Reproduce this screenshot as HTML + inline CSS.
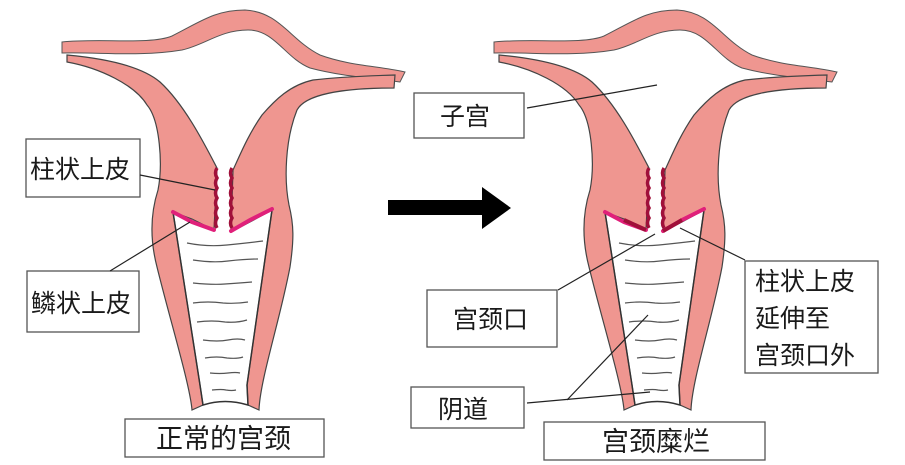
<!DOCTYPE html>
<html><head><meta charset="utf-8"><style>
html,body{margin:0;padding:0;background:#fff;}
svg{display:block;}
text{font-family:"Liberation Sans","Noto Sans CJK SC",sans-serif;font-size:25px;fill:#1a1a1a;}
</style></head><body>
<svg width="905" height="465" viewBox="0 0 905 465" xmlns="http://www.w3.org/2000/svg">
<defs>
<g id="fig">
  <path d="M62,42 C100,38 150,45 172,36 C200,22 215,10 245,10 C280,12 290,40 320,55 C350,66 380,66 405,72 L400,82 C370,78 340,76 310,68 C285,58 275,30 248,30 C220,30 205,45 182,50 C140,57 100,52 62,53 Z" fill="#ef9690" stroke="#555" stroke-width="1"/>
  <path d="M67,55 C100,58 140,65 160,82 C185,105 205,145 217,168 L214,230 L192,219 L173,212 L200,385 L203,405 L192,410 C190,385 170,320 157,267 C150,240 150,215 158,190 C163,165 160,120 147,105 C135,85 100,68 67,62 Z" fill="#ef9690" stroke="#444" stroke-width="1.2"/>
  <path d="M395,75 C360,76 330,78 313,80 C290,85 275,100 262,115 C248,135 240,155 233,170 L231,232 L250,222 L272,210 L247,385 L248,405 L259,410 C260,380 280,320 290,267 C294,240 294,225 289,205 C284,180 285,140 297,110 C305,95 340,88 394,88 Z" fill="#ef9690" stroke="#444" stroke-width="1.2"/>
  <path d="M173,212 L200,385 L203,405 Q225,398 248,405 L247,385 L272,210" fill="none" stroke="#333" stroke-width="1.5"/>
  <g stroke="#555" stroke-width="1.2" fill="none">
    <path d="M187,243 q20,4 40,2 q20,-2 36,-4"/>
    <path d="M193,260 q20,3 35,1 q18,-2 30,-2"/>
    <path d="M193,283 q20,2 32,1 q15,-1 27,-2"/>
    <path d="M193,303 q15,-2 30,0 q12,1 25,-1"/>
    <path d="M197,322 q15,-2 28,0 q12,1 22,-2"/>
    <path d="M203,340 q15,2 25,0 q10,-2 17,0"/>
    <path d="M205,358 q12,-2 22,0 q10,1 16,-1"/>
    <path d="M210,373 q10,1 18,0 q8,-1 12,0"/>
    <path d="M212,390 q10,-1 14,0 q6,1 10,0"/>
  </g>
  <path d="M173,212 L192,222 L214,230 M231,231 L250,220 L272,209" fill="none" stroke="#e0207a" stroke-width="4" stroke-linecap="round"/>
  <path d="M217,168 q-3,5 0,10 q-3,5 0,10 q-3,5 0,10 q-3,5 0,10 q-3,5 0,10 q-3,5 0,10" fill="none" stroke="#a0103a" stroke-width="3.5"/>
  <path d="M232,168 q-3,5 0,10 q-3,5 0,10 q-3,5 0,10 q-3,5 0,10 q-3,5 0,10 q-3,5 0,10" fill="none" stroke="#a0103a" stroke-width="3.5"/>
</g>
</defs>
<use href="#fig"/>
<g transform="translate(432,0)">
  <use href="#fig"/>
  <path d="M192,220 L214,230 M231,231 L250,220" fill="none" stroke="#a0103a" stroke-width="4"/>
</g>

<g fill="#fff" stroke="#555" stroke-width="1.3">
  <rect x="26" y="139" width="114" height="58"/>
  <rect x="27" y="271" width="112" height="61"/>
  <rect x="125" y="419" width="199" height="38"/>
  <rect x="414" y="93" width="110" height="45"/>
  <rect x="427" y="290" width="130" height="57"/>
  <rect x="411" y="387" width="113" height="41"/>
  <rect x="745" y="261" width="133" height="112"/>
  <rect x="544" y="422" width="221" height="38"/>
</g>
<g stroke="#222" stroke-width="1.2" fill="none">
  <line x1="140" y1="175" x2="215" y2="190"/>
  <line x1="110" y1="271" x2="190" y2="222"/>
  <line x1="527" y1="108" x2="657" y2="85"/>
  <line x1="558" y1="290" x2="655" y2="234"/>
  <line x1="527" y1="403" x2="650" y2="392"/>
  <line x1="567" y1="400" x2="648" y2="315"/>
  <line x1="745" y1="260" x2="680" y2="228"/>
</g>
<rect x="388" y="200" width="96" height="15" fill="#000"/>
<polygon points="482,187 511,208 482,229" fill="#000"/>

<text x="30" y="178">柱状上皮</text>
<text x="31" y="312">鳞状上皮</text>
<text x="156" y="448" style="font-size:27px">正常的宫颈</text>
<text x="440" y="125">子宫</text>
<text x="453" y="328">宫颈口</text>
<text x="438" y="418">阴道</text>
<text x="755" y="290">柱状上皮</text>
<text x="755" y="327">延伸至</text>
<text x="755" y="364">宫颈口外</text>
<text x="602" y="451" style="font-size:27px">宫颈糜烂</text>
</svg>
</body></html>
